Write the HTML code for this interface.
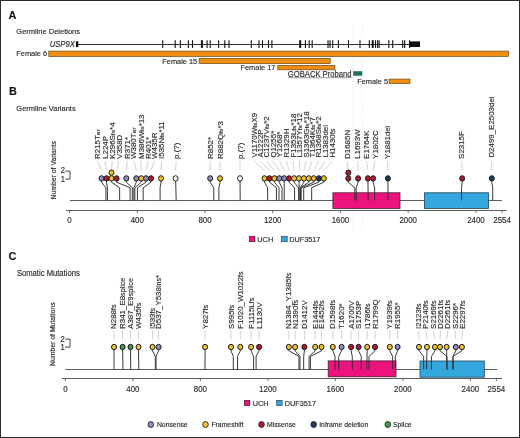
<!DOCTYPE html>
<html><head><meta charset="utf-8"><style>
html,body{margin:0;padding:0;background:#fff;}
body{width:520px;height:438px;overflow:hidden;}
svg{display:block;font-family:"Liberation Sans", sans-serif;will-change:transform;}
text{stroke:#333;stroke-width:0.15px;}
</style></head><body>
<svg width="520" height="438" viewBox="0 0 520 438">
<rect x="0" y="0" width="520" height="438" fill="#fff"/>
<line x1="353.2" y1="24.8" x2="353.2" y2="232" stroke="#c4c4c4" stroke-width="0.6" stroke-dasharray="0.9,2.4"/>
<line x1="362.1" y1="24.8" x2="362.1" y2="232" stroke="#c4c4c4" stroke-width="0.6" stroke-dasharray="0.9,2.4"/>
<text transform="translate(8.6,19.2) scale(1,1.0)" font-size="10.9" text-anchor="start" font-weight="bold" font-style="normal" fill="#111" >A</text>
<text transform="translate(16.3,34.4) scale(1,1.08)" font-size="7.5" text-anchor="start" font-weight="normal" font-style="normal" fill="#2b2b2b" >Germline Deletions</text>
<text transform="translate(74.8,46.7) scale(1,1.08)" font-size="7.65" text-anchor="end" font-weight="normal" font-style="italic" fill="#2b2b2b" >USP9X</text>
<line x1="78" y1="44.5" x2="412" y2="44.5" stroke="#1a1a1a" stroke-width="0.9"/>
<rect x="75.9" y="41.3" width="2.4" height="5.8" fill="#111"/>
<line x1="162.7" y1="40.2" x2="162.7" y2="47.9" stroke="#111" stroke-width="1.1"/>
<line x1="175.2" y1="40.2" x2="175.2" y2="47.9" stroke="#111" stroke-width="1.1"/>
<line x1="180.4" y1="40.2" x2="180.4" y2="47.9" stroke="#111" stroke-width="1.1"/>
<line x1="188.4" y1="40.2" x2="188.4" y2="47.9" stroke="#111" stroke-width="1.1"/>
<line x1="192.5" y1="40.2" x2="192.5" y2="47.9" stroke="#111" stroke-width="1.1"/>
<line x1="207.1" y1="40.2" x2="207.1" y2="47.9" stroke="#111" stroke-width="1.1"/>
<line x1="210.2" y1="40.2" x2="210.2" y2="47.9" stroke="#111" stroke-width="1.1"/>
<line x1="218.6" y1="40.2" x2="218.6" y2="47.9" stroke="#111" stroke-width="1.1"/>
<line x1="224.8" y1="40.2" x2="224.8" y2="47.9" stroke="#111" stroke-width="1.1"/>
<line x1="229" y1="40.2" x2="229" y2="47.9" stroke="#111" stroke-width="1.1"/>
<line x1="251.3" y1="40.2" x2="251.3" y2="47.9" stroke="#111" stroke-width="1.1"/>
<line x1="259" y1="40.2" x2="259" y2="47.9" stroke="#111" stroke-width="1.1"/>
<line x1="262.5" y1="40.2" x2="262.5" y2="47.9" stroke="#111" stroke-width="1.1"/>
<line x1="268.5" y1="40.2" x2="268.5" y2="47.9" stroke="#111" stroke-width="1.1"/>
<line x1="271.9" y1="40.2" x2="271.9" y2="47.9" stroke="#111" stroke-width="1.1"/>
<line x1="305.4" y1="40.2" x2="305.4" y2="47.9" stroke="#111" stroke-width="1.1"/>
<line x1="309.2" y1="40.2" x2="309.2" y2="47.9" stroke="#111" stroke-width="1.1"/>
<line x1="312.2" y1="40.2" x2="312.2" y2="47.9" stroke="#111" stroke-width="1.1"/>
<line x1="328" y1="40.2" x2="328" y2="47.9" stroke="#111" stroke-width="1.1"/>
<line x1="330" y1="40.2" x2="330" y2="47.9" stroke="#111" stroke-width="1.1"/>
<line x1="332.7" y1="40.2" x2="332.7" y2="47.9" stroke="#111" stroke-width="1.1"/>
<line x1="338.4" y1="40.2" x2="338.4" y2="47.9" stroke="#111" stroke-width="1.1"/>
<line x1="348.5" y1="40.2" x2="348.5" y2="47.9" stroke="#111" stroke-width="1.1"/>
<line x1="360" y1="40.2" x2="360" y2="47.9" stroke="#111" stroke-width="1.1"/>
<line x1="369.3" y1="40.2" x2="369.3" y2="47.9" stroke="#111" stroke-width="1.1"/>
<line x1="375.5" y1="40.2" x2="375.5" y2="47.9" stroke="#111" stroke-width="1.1"/>
<line x1="377.6" y1="40.2" x2="377.6" y2="47.9" stroke="#111" stroke-width="1.1"/>
<line x1="379.1" y1="40.2" x2="379.1" y2="47.9" stroke="#111" stroke-width="1.1"/>
<line x1="388.8" y1="40.2" x2="388.8" y2="47.9" stroke="#111" stroke-width="1.1"/>
<line x1="392.7" y1="40.2" x2="392.7" y2="47.9" stroke="#111" stroke-width="1.1"/>
<line x1="402.7" y1="40.2" x2="402.7" y2="47.9" stroke="#111" stroke-width="1.1"/>
<line x1="404.7" y1="40.2" x2="404.7" y2="47.9" stroke="#111" stroke-width="1.1"/>
<line x1="409.6" y1="40.2" x2="409.6" y2="47.9" stroke="#111" stroke-width="1.1"/>
<rect x="200.9" y="40.2" width="2" height="7.7" fill="#111"/>
<rect x="299.2" y="40.2" width="2" height="7.7" fill="#111"/>
<rect x="371.7" y="40.2" width="2" height="7.7" fill="#111"/>
<rect x="410" y="41.4" width="10" height="5.6" fill="#111"/>
<text transform="translate(16.3,56.3) scale(1,1.08)" font-size="7.4" text-anchor="start" font-weight="normal" font-style="normal" fill="#2b2b2b" >Female 6</text>
<rect x="48.8" y="51.1" width="459.70" height="5.30" fill="#ef8f12" stroke="#6e4512" stroke-width="0.7"/>
<text transform="translate(197.2,63.7) scale(1,1.08)" font-size="7.4" text-anchor="end" font-weight="normal" font-style="normal" fill="#2b2b2b" >Female 15</text>
<rect x="199.1" y="58.4" width="131.10" height="5.10" fill="#ef8f12" stroke="#6e4512" stroke-width="0.7"/>
<text transform="translate(275.4,70.0) scale(1,1.08)" font-size="7.4" text-anchor="end" font-weight="normal" font-style="normal" fill="#2b2b2b" >Female 17</text>
<rect x="277.8" y="65.4" width="57.00" height="4.40" fill="#ef8f12" stroke="#6e4512" stroke-width="0.7"/>
<text transform="translate(287.8,76.6) scale(1,1.08)" font-size="7.65" text-anchor="start" font-weight="normal" font-style="normal" fill="#2b2b2b" >GOBACK Proband</text>
<line x1="287.8" y1="77.7" x2="351.5" y2="77.7" stroke="#555" stroke-width="0.6"/>
<rect x="353.2" y="71.2" width="9.1" height="4.5" fill="#1b7350"/>
<text transform="translate(388,83.8) scale(1,1.08)" font-size="7.4" text-anchor="end" font-weight="normal" font-style="normal" fill="#2b2b2b" >Female 5</text>
<rect x="389.1" y="79.1" width="20.90" height="4.40" fill="#ef8f12" stroke="#6e4512" stroke-width="0.7"/>
<text transform="translate(9.0,94.8) scale(1,1.0)" font-size="10.9" text-anchor="start" font-weight="bold" font-style="normal" fill="#111" >B</text>
<text transform="translate(16.3,111.2) scale(1,1.08)" font-size="7.5" text-anchor="start" font-weight="normal" font-style="normal" fill="#2b2b2b" >Germline Variants</text>
<line x1="69.8" y1="200.5" x2="501.8" y2="200.5" stroke="#333" stroke-width="0.8"/>
<line x1="97.50" y1="161.0" x2="101.50" y2="170.5" stroke="#b4b4b4" stroke-width="0.6"/>
<text transform="translate(100.15,158.90) scale(1,1.08) rotate(-90)" font-size="7.35" fill="#2b2b2b">R215T<tspan font-size="6.25">er</tspan></text>
<line x1="105.00" y1="161.0" x2="106.50" y2="170.5" stroke="#b4b4b4" stroke-width="0.6"/>
<text transform="translate(107.65,158.90) scale(1,1.08) rotate(-90)" font-size="7.35" fill="#2b2b2b">L224P</text>
<line x1="112.20" y1="161.0" x2="111.50" y2="170.5" stroke="#b4b4b4" stroke-width="0.6"/>
<text transform="translate(114.85,158.90) scale(1,1.08) rotate(-90)" font-size="7.35" fill="#2b2b2b">K296S<tspan font-size="6.25">fs</tspan>*4</text>
<line x1="119.00" y1="161.0" x2="116.60" y2="170.5" stroke="#b4b4b4" stroke-width="0.6"/>
<text transform="translate(121.65,158.90) scale(1,1.08) rotate(-90)" font-size="7.35" fill="#2b2b2b">V358D</text>
<line x1="127.20" y1="161.0" x2="126.30" y2="170.5" stroke="#b4b4b4" stroke-width="0.6"/>
<text transform="translate(129.85,158.90) scale(1,1.08) rotate(-90)" font-size="7.35" fill="#2b2b2b">R371*</text>
<line x1="133.80" y1="161.0" x2="136.30" y2="170.5" stroke="#b4b4b4" stroke-width="0.6"/>
<text transform="translate(136.45,158.90) scale(1,1.08) rotate(-90)" font-size="7.35" fill="#2b2b2b">W380T<tspan font-size="6.25">er</tspan></text>
<line x1="141.00" y1="161.0" x2="141.20" y2="170.5" stroke="#b4b4b4" stroke-width="0.6"/>
<text transform="translate(143.65,158.90) scale(1,1.08) rotate(-90)" font-size="7.35" fill="#2b2b2b">M386W<tspan font-size="6.25">fs</tspan>*13</text>
<line x1="148.20" y1="161.0" x2="146.00" y2="170.5" stroke="#b4b4b4" stroke-width="0.6"/>
<text transform="translate(150.85,158.90) scale(1,1.08) rotate(-90)" font-size="7.35" fill="#2b2b2b">R401*</text>
<line x1="154.80" y1="161.0" x2="151.00" y2="170.5" stroke="#b4b4b4" stroke-width="0.6"/>
<text transform="translate(157.45,158.90) scale(1,1.08) rotate(-90)" font-size="7.35" fill="#2b2b2b">W435R</text>
<line x1="161.80" y1="161.0" x2="161.00" y2="170.5" stroke="#b4b4b4" stroke-width="0.6"/>
<text transform="translate(164.45,158.90) scale(1,1.08) rotate(-90)" font-size="7.35" fill="#2b2b2b">I535N<tspan font-size="6.25">fs</tspan>*11</text>
<line x1="176.20" y1="161.0" x2="175.60" y2="170.5" stroke="#b4b4b4" stroke-width="0.6"/>
<text transform="translate(178.85,158.90) scale(1,1.08) rotate(-90)" font-size="7.35" fill="#2b2b2b">p.(?)</text>
<line x1="210.20" y1="161.0" x2="210.20" y2="170.5" stroke="#b4b4b4" stroke-width="0.6"/>
<text transform="translate(212.85,158.90) scale(1,1.08) rotate(-90)" font-size="7.35" fill="#2b2b2b">R852*</text>
<line x1="220.00" y1="161.0" x2="220.00" y2="170.5" stroke="#b4b4b4" stroke-width="0.6"/>
<text transform="translate(222.65,158.90) scale(1,1.08) rotate(-90)" font-size="7.35" fill="#2b2b2b">R882Q<tspan font-size="6.25">fs</tspan>*3</text>
<line x1="240.00" y1="161.0" x2="240.00" y2="170.5" stroke="#b4b4b4" stroke-width="0.6"/>
<text transform="translate(242.65,158.90) scale(1,1.08) rotate(-90)" font-size="7.35" fill="#2b2b2b">p.(?)</text>
<line x1="254.10" y1="161.0" x2="264.50" y2="170.5" stroke="#b4b4b4" stroke-width="0.6"/>
<text transform="translate(256.75,157.60) scale(1,1.08) rotate(-90)" font-size="7.35" fill="#2b2b2b">V1170W<tspan font-size="6.25">fs</tspan>X9</text>
<line x1="260.40" y1="161.0" x2="269.50" y2="170.5" stroke="#b4b4b4" stroke-width="0.6"/>
<text transform="translate(263.05,157.60) scale(1,1.08) rotate(-90)" font-size="7.35" fill="#2b2b2b">A1222P</text>
<line x1="266.70" y1="161.0" x2="274.40" y2="170.5" stroke="#b4b4b4" stroke-width="0.6"/>
<text transform="translate(269.35,157.60) scale(1,1.08) rotate(-90)" font-size="7.35" fill="#2b2b2b">C1237V<tspan font-size="6.25">fs</tspan>*2</text>
<line x1="273.00" y1="161.0" x2="279.30" y2="170.5" stroke="#b4b4b4" stroke-width="0.6"/>
<text transform="translate(275.65,157.60) scale(1,1.08) rotate(-90)" font-size="7.35" fill="#2b2b2b">Q1255*</text>
<line x1="279.60" y1="161.0" x2="284.20" y2="170.5" stroke="#b4b4b4" stroke-width="0.6"/>
<text transform="translate(282.25,157.60) scale(1,1.08) rotate(-90)" font-size="7.35" fill="#2b2b2b">Y1268*</text>
<line x1="286.50" y1="161.0" x2="289.10" y2="170.5" stroke="#b4b4b4" stroke-width="0.6"/>
<text transform="translate(289.15,157.60) scale(1,1.08) rotate(-90)" font-size="7.35" fill="#2b2b2b">R1329H</text>
<line x1="293.20" y1="161.0" x2="294.10" y2="170.5" stroke="#b4b4b4" stroke-width="0.6"/>
<text transform="translate(295.85,157.60) scale(1,1.08) rotate(-90)" font-size="7.35" fill="#2b2b2b">F1353L<tspan font-size="6.25">fs</tspan>*18</text>
<line x1="299.50" y1="161.0" x2="299.00" y2="170.5" stroke="#b4b4b4" stroke-width="0.6"/>
<text transform="translate(302.15,157.60) scale(1,1.08) rotate(-90)" font-size="7.35" fill="#2b2b2b">L1357Y<tspan font-size="6.25">fs</tspan>*12</text>
<line x1="306.20" y1="161.0" x2="303.90" y2="170.5" stroke="#b4b4b4" stroke-width="0.6"/>
<text transform="translate(308.85,157.60) scale(1,1.08) rotate(-90)" font-size="7.35" fill="#2b2b2b">S1363G<tspan font-size="6.25">fs</tspan>*18</text>
<line x1="312.20" y1="161.0" x2="308.80" y2="170.5" stroke="#b4b4b4" stroke-width="0.6"/>
<text transform="translate(314.85,157.60) scale(1,1.08) rotate(-90)" font-size="7.35" fill="#2b2b2b">T1364K<tspan font-size="6.25">fs</tspan>*7</text>
<line x1="318.50" y1="161.0" x2="313.80" y2="170.5" stroke="#b4b4b4" stroke-width="0.6"/>
<text transform="translate(321.15,157.60) scale(1,1.08) rotate(-90)" font-size="7.35" fill="#2b2b2b">R1368S<tspan font-size="6.25">fs</tspan>*2</text>
<line x1="325.20" y1="161.0" x2="318.80" y2="170.5" stroke="#b4b4b4" stroke-width="0.6"/>
<text transform="translate(327.85,157.60) scale(1,1.08) rotate(-90)" font-size="7.35" fill="#2b2b2b">L1383<tspan font-size="7.35">del</tspan></text>
<line x1="332.60" y1="161.0" x2="323.80" y2="170.5" stroke="#b4b4b4" stroke-width="0.6"/>
<text transform="translate(335.25,157.60) scale(1,1.08) rotate(-90)" font-size="7.35" fill="#2b2b2b">H1430<tspan font-size="6.98">fs</tspan></text>
<line x1="347.40" y1="161.0" x2="348.30" y2="170.5" stroke="#b4b4b4" stroke-width="0.6"/>
<text transform="translate(350.05,158.90) scale(1,1.08) rotate(-90)" font-size="7.35" fill="#2b2b2b">D1685N</text>
<line x1="357.60" y1="161.0" x2="358.10" y2="170.5" stroke="#b4b4b4" stroke-width="0.6"/>
<text transform="translate(360.25,158.90) scale(1,1.08) rotate(-90)" font-size="7.35" fill="#2b2b2b">L1693W</text>
<line x1="366.60" y1="161.0" x2="367.90" y2="170.5" stroke="#b4b4b4" stroke-width="0.6"/>
<text transform="translate(369.25,158.90) scale(1,1.08) rotate(-90)" font-size="7.35" fill="#2b2b2b">E1764K</text>
<line x1="375.00" y1="161.0" x2="373.10" y2="170.5" stroke="#b4b4b4" stroke-width="0.6"/>
<text transform="translate(377.65,158.90) scale(1,1.08) rotate(-90)" font-size="7.35" fill="#2b2b2b">Y1802C</text>
<line x1="387.40" y1="161.0" x2="387.90" y2="170.5" stroke="#b4b4b4" stroke-width="0.6"/>
<text transform="translate(390.05,158.90) scale(1,1.08) rotate(-90)" font-size="7.35" fill="#2b2b2b">Y1881<tspan font-size="6.98">del</tspan></text>
<line x1="461.60" y1="161.0" x2="462.20" y2="170.5" stroke="#b4b4b4" stroke-width="0.6"/>
<text transform="translate(464.25,158.90) scale(1,1.08) rotate(-90)" font-size="7.35" fill="#2b2b2b">S2315F</text>
<line x1="491.60" y1="161.0" x2="491.80" y2="170.5" stroke="#b4b4b4" stroke-width="0.6"/>
<text transform="translate(494.25,157.60) scale(1,1.08) rotate(-90)" font-size="7.35" fill="#2b2b2b">D2499_E2503<tspan font-size="7.35">del</tspan></text>
<rect x="332.9" y="192.8" width="67.1" height="15.6" fill="#ec137f" stroke="#4f1832" stroke-width="0.8"/>
<rect x="424.4" y="192.8" width="64.1" height="15.6" fill="#35a7df" stroke="#1e4356" stroke-width="0.8"/>
<path d="M101.50,178.40 L101.50,182.20 L105.91,187.80 L105.91,200.5 M106.50,178.40 L106.50,182.20 L107.43,187.80 L107.43,200.5 M111.50,178.40 L111.50,182.20 L119.63,187.80 L119.63,200.5 M116.60,178.40 L116.60,182.20 L130.13,187.80 L130.13,200.5 M126.30,178.40 L126.30,182.20 L132.33,187.80 L132.33,200.5 M136.30,178.40 L136.30,182.20 L133.85,187.80 L133.85,200.5 M141.20,178.40 L141.20,182.20 L134.87,187.80 L134.87,200.5 M146.00,178.40 L146.00,182.20 L137.41,187.80 L137.41,200.5 M151.00,178.40 L151.00,182.20 L143.17,187.80 L143.17,200.5 M161.00,178.40 L161.00,182.20 L160.10,187.80 L160.10,200.5 M175.60,178.40 L176.19,200.5 M210.20,178.40 L210.20,182.20 L213.79,187.80 L213.79,200.5 M220.00,178.40 L220.00,182.20 L218.87,187.80 L218.87,200.5 M240.00,178.40 L240.20,200.5 M264.50,178.40 L264.50,182.20 L267.64,187.80 L267.64,200.5 M269.50,178.40 L269.50,182.20 L276.45,187.80 L276.45,200.5 M274.40,178.40 L274.40,182.20 L278.99,187.80 L278.99,200.5 M279.30,178.40 L279.30,182.20 L282.03,187.80 L282.03,200.5 M284.20,178.40 L284.24,200.5 M289.10,178.40 L289.10,182.20 L294.57,187.80 L294.57,200.5 M294.10,178.40 L294.10,182.20 L298.63,187.80 L298.63,200.5 M299.00,178.40 L299.31,200.5 M303.90,178.40 L303.90,182.20 L300.32,187.80 L300.32,200.5 M308.80,178.40 L308.80,182.20 L300.49,187.80 L300.49,200.5 M313.80,178.40 L313.80,182.20 L301.17,187.80 L301.17,200.5 M318.80,178.40 L318.80,182.20 L303.71,187.80 L303.71,200.5 M323.80,178.40 L323.80,182.20 L311.67,187.80 L311.67,200.5 M348.30,178.40 L348.30,182.20 L354.85,187.80 L354.85,200.5 M358.10,178.40 L358.10,182.20 L356.21,187.80 L356.21,200.5 M367.90,178.40 L368.23,200.5 M373.10,178.40 L373.10,182.20 L374.67,187.80 L374.67,200.5 M387.90,178.40 L388.05,200.5 M462.20,178.40 L462.20,182.20 L461.55,187.80 L461.55,200.5 M491.80,178.40 L491.80,182.20 L492.71,187.80 L492.71,200.5" fill="none" stroke="#2e2e2e" stroke-width="0.95"/>
<ellipse cx="101.50" cy="178.40" rx="2.5" ry="2.70" fill="#8f8ac2" stroke="#1c1c1c" stroke-width="1.0"/>
<ellipse cx="106.50" cy="178.40" rx="2.5" ry="2.70" fill="#b3162f" stroke="#1c1c1c" stroke-width="1.0"/>
<ellipse cx="111.50" cy="178.40" rx="2.5" ry="2.70" fill="#efc12a" stroke="#1c1c1c" stroke-width="1.0"/>
<ellipse cx="111.50" cy="172.75" rx="2.5" ry="2.70" fill="#efc12a" stroke="#1c1c1c" stroke-width="1.0"/>
<ellipse cx="116.60" cy="178.40" rx="2.5" ry="2.70" fill="#b3162f" stroke="#1c1c1c" stroke-width="1.0"/>
<ellipse cx="126.30" cy="178.40" rx="2.5" ry="2.70" fill="#8f8ac2" stroke="#1c1c1c" stroke-width="1.0"/>
<ellipse cx="136.30" cy="178.40" rx="2.5" ry="2.70" fill="#8f8ac2" stroke="#1c1c1c" stroke-width="1.0"/>
<ellipse cx="141.20" cy="178.40" rx="2.5" ry="2.70" fill="#efc12a" stroke="#1c1c1c" stroke-width="1.0"/>
<ellipse cx="146.00" cy="178.40" rx="2.5" ry="2.70" fill="#8f8ac2" stroke="#1c1c1c" stroke-width="1.0"/>
<ellipse cx="151.00" cy="178.40" rx="2.5" ry="2.70" fill="#b3162f" stroke="#1c1c1c" stroke-width="1.0"/>
<ellipse cx="161.00" cy="178.40" rx="2.5" ry="2.70" fill="#efc12a" stroke="#1c1c1c" stroke-width="1.0"/>
<ellipse cx="175.60" cy="178.40" rx="2.5" ry="2.70" fill="#ffffff" stroke="#1c1c1c" stroke-width="1.0"/>
<ellipse cx="210.20" cy="178.40" rx="2.5" ry="2.70" fill="#8f8ac2" stroke="#1c1c1c" stroke-width="1.0"/>
<ellipse cx="220.00" cy="178.40" rx="2.5" ry="2.70" fill="#efc12a" stroke="#1c1c1c" stroke-width="1.0"/>
<ellipse cx="240.00" cy="178.40" rx="2.5" ry="2.70" fill="#ffffff" stroke="#1c1c1c" stroke-width="1.0"/>
<ellipse cx="264.50" cy="178.40" rx="2.5" ry="2.70" fill="#efc12a" stroke="#1c1c1c" stroke-width="1.0"/>
<ellipse cx="269.50" cy="178.40" rx="2.5" ry="2.70" fill="#b3162f" stroke="#1c1c1c" stroke-width="1.0"/>
<ellipse cx="274.40" cy="178.40" rx="2.5" ry="2.70" fill="#efc12a" stroke="#1c1c1c" stroke-width="1.0"/>
<ellipse cx="279.30" cy="178.40" rx="2.5" ry="2.70" fill="#8f8ac2" stroke="#1c1c1c" stroke-width="1.0"/>
<ellipse cx="284.20" cy="178.40" rx="2.5" ry="2.70" fill="#8f8ac2" stroke="#1c1c1c" stroke-width="1.0"/>
<ellipse cx="289.10" cy="178.40" rx="2.5" ry="2.70" fill="#b3162f" stroke="#1c1c1c" stroke-width="1.0"/>
<ellipse cx="294.10" cy="178.40" rx="2.5" ry="2.70" fill="#efc12a" stroke="#1c1c1c" stroke-width="1.0"/>
<ellipse cx="299.00" cy="178.40" rx="2.5" ry="2.70" fill="#efc12a" stroke="#1c1c1c" stroke-width="1.0"/>
<ellipse cx="303.90" cy="178.40" rx="2.5" ry="2.70" fill="#efc12a" stroke="#1c1c1c" stroke-width="1.0"/>
<ellipse cx="308.80" cy="178.40" rx="2.5" ry="2.70" fill="#efc12a" stroke="#1c1c1c" stroke-width="1.0"/>
<ellipse cx="313.80" cy="178.40" rx="2.5" ry="2.70" fill="#efc12a" stroke="#1c1c1c" stroke-width="1.0"/>
<ellipse cx="318.80" cy="178.40" rx="2.5" ry="2.70" fill="#1f3a66" stroke="#1c1c1c" stroke-width="1.0"/>
<ellipse cx="323.80" cy="178.40" rx="2.5" ry="2.70" fill="#efc12a" stroke="#1c1c1c" stroke-width="1.0"/>
<ellipse cx="348.30" cy="178.40" rx="2.5" ry="2.70" fill="#b3162f" stroke="#1c1c1c" stroke-width="1.0"/>
<ellipse cx="348.30" cy="172.75" rx="2.5" ry="2.70" fill="#b3162f" stroke="#1c1c1c" stroke-width="1.0"/>
<ellipse cx="358.10" cy="178.40" rx="2.5" ry="2.70" fill="#b3162f" stroke="#1c1c1c" stroke-width="1.0"/>
<ellipse cx="367.90" cy="178.40" rx="2.5" ry="2.70" fill="#b3162f" stroke="#1c1c1c" stroke-width="1.0"/>
<ellipse cx="373.10" cy="178.40" rx="2.5" ry="2.70" fill="#b3162f" stroke="#1c1c1c" stroke-width="1.0"/>
<ellipse cx="387.90" cy="178.40" rx="2.5" ry="2.70" fill="#1f3a66" stroke="#1c1c1c" stroke-width="1.0"/>
<ellipse cx="462.20" cy="178.40" rx="2.5" ry="2.70" fill="#b3162f" stroke="#1c1c1c" stroke-width="1.0"/>
<ellipse cx="491.80" cy="178.40" rx="2.5" ry="2.70" fill="#1f3a66" stroke="#1c1c1c" stroke-width="1.0"/>
<line x1="66" y1="210.5" x2="506.6" y2="210.5" stroke="#333" stroke-width="0.8"/>
<line x1="69.50" y1="210.5" x2="69.50" y2="213" stroke="#333" stroke-width="0.7"/>
<text transform="translate(69.5,223.0) scale(1,1.08)" font-size="7.9" text-anchor="middle" font-weight="normal" font-style="normal" fill="#2b2b2b" >0</text>
<line x1="137.24" y1="210.5" x2="137.24" y2="213" stroke="#333" stroke-width="0.7"/>
<text transform="translate(137.24,223.0) scale(1,1.08)" font-size="7.9" text-anchor="middle" font-weight="normal" font-style="normal" fill="#2b2b2b" >400</text>
<line x1="204.98" y1="210.5" x2="204.98" y2="213" stroke="#333" stroke-width="0.7"/>
<text transform="translate(204.98,223.0) scale(1,1.08)" font-size="7.9" text-anchor="middle" font-weight="normal" font-style="normal" fill="#2b2b2b" >800</text>
<line x1="272.72" y1="210.5" x2="272.72" y2="213" stroke="#333" stroke-width="0.7"/>
<text transform="translate(272.72,223.0) scale(1,1.08)" font-size="7.9" text-anchor="middle" font-weight="normal" font-style="normal" fill="#2b2b2b" >1200</text>
<line x1="340.46" y1="210.5" x2="340.46" y2="213" stroke="#333" stroke-width="0.7"/>
<text transform="translate(340.46,223.0) scale(1,1.08)" font-size="7.9" text-anchor="middle" font-weight="normal" font-style="normal" fill="#2b2b2b" >1600</text>
<line x1="408.20" y1="210.5" x2="408.20" y2="213" stroke="#333" stroke-width="0.7"/>
<text transform="translate(408.2,223.0) scale(1,1.08)" font-size="7.9" text-anchor="middle" font-weight="normal" font-style="normal" fill="#2b2b2b" >2000</text>
<line x1="475.94" y1="210.5" x2="475.94" y2="213" stroke="#333" stroke-width="0.7"/>
<text transform="translate(475.94,223.0) scale(1,1.08)" font-size="7.9" text-anchor="middle" font-weight="normal" font-style="normal" fill="#2b2b2b" >2400</text>
<line x1="502.02" y1="210.5" x2="502.02" y2="213" stroke="#333" stroke-width="0.7"/>
<text transform="translate(502.02,223.0) scale(1,1.08)" font-size="7.9" text-anchor="middle" font-weight="normal" font-style="normal" fill="#2b2b2b" >2554</text>
<text transform="translate(55.6,170.2) scale(1,1.08) rotate(-90)" font-size="6.35" text-anchor="middle" fill="#2b2b2b">Number of Variants</text>
<text transform="translate(65.0,173.3) scale(1,1.08)" font-size="7.6" text-anchor="end" font-weight="normal" font-style="normal" fill="#2b2b2b" >2</text>
<text transform="translate(65.0,181.6) scale(1,1.08)" font-size="7.6" text-anchor="end" font-weight="normal" font-style="normal" fill="#2b2b2b" >1</text>
<path d="M65.3,171.1 H70 V179.1 H65.3" fill="none" stroke="#333" stroke-width="0.9"/>
<rect x="249.3" y="236.3" width="5.6" height="5.4" fill="#ec137f" stroke="#4f1832" stroke-width="0.7"/>
<text transform="translate(257.3,241.6) scale(1,1.08)" font-size="7.35" text-anchor="start" font-weight="normal" font-style="normal" fill="#2b2b2b" >UCH</text>
<rect x="281.6" y="236.3" width="5.6" height="5.4" fill="#35a7df" stroke="#1e4356" stroke-width="0.7"/>
<text transform="translate(289.2,241.6) scale(1,1.08)" font-size="7.3" text-anchor="start" font-weight="normal" font-style="normal" fill="#2b2b2b" >DUF3517</text>
<text transform="translate(8.6,260.3) scale(1,1.0)" font-size="10.9" text-anchor="start" font-weight="bold" font-style="normal" fill="#111" >C</text>
<text transform="translate(16.9,276.0) scale(1,1.08)" font-size="7.65" text-anchor="start" font-weight="normal" font-style="normal" fill="#2b2b2b" >Somatic Mutations</text>
<line x1="65.4" y1="369.5" x2="497.4" y2="369.5" stroke="#333" stroke-width="0.8"/>
<line x1="113.80" y1="330.4" x2="114.00" y2="339.4" stroke="#b4b4b4" stroke-width="0.6"/>
<text transform="translate(116.45,328.90) scale(1,1.08) rotate(-90)" font-size="7.35" fill="#2b2b2b">N288<tspan font-size="6.62">fs</tspan></text>
<line x1="122.60" y1="330.4" x2="122.60" y2="339.4" stroke="#b4b4b4" stroke-width="0.6"/>
<text transform="translate(125.25,328.90) scale(1,1.08) rotate(-90)" font-size="7.35" fill="#2b2b2b">R341_E8<tspan font-size="6.62">splice</tspan></text>
<line x1="130.30" y1="330.4" x2="130.50" y2="339.4" stroke="#b4b4b4" stroke-width="0.6"/>
<text transform="translate(132.95,328.90) scale(1,1.08) rotate(-90)" font-size="7.35" fill="#2b2b2b">A387_E9<tspan font-size="6.62">splice</tspan></text>
<line x1="138.40" y1="330.4" x2="138.50" y2="339.4" stroke="#b4b4b4" stroke-width="0.6"/>
<text transform="translate(141.05,328.90) scale(1,1.08) rotate(-90)" font-size="7.35" fill="#2b2b2b">W435<tspan font-size="6.62">fs</tspan></text>
<line x1="152.50" y1="330.4" x2="152.50" y2="339.4" stroke="#b4b4b4" stroke-width="0.6"/>
<text transform="translate(155.15,328.90) scale(1,1.08) rotate(-90)" font-size="7.35" fill="#2b2b2b">I533<tspan font-size="6.62">fs</tspan></text>
<line x1="158.60" y1="330.4" x2="158.60" y2="339.4" stroke="#b4b4b4" stroke-width="0.6"/>
<text transform="translate(161.25,328.90) scale(1,1.08) rotate(-90)" font-size="7.35" fill="#2b2b2b">D537_Y538<tspan font-size="6.62">ins</tspan>*</text>
<line x1="205.10" y1="330.4" x2="205.10" y2="339.4" stroke="#b4b4b4" stroke-width="0.6"/>
<text transform="translate(207.75,328.90) scale(1,1.08) rotate(-90)" font-size="7.35" fill="#2b2b2b">Y827<tspan font-size="6.62">fs</tspan></text>
<line x1="231.00" y1="330.4" x2="231.00" y2="339.4" stroke="#b4b4b4" stroke-width="0.6"/>
<text transform="translate(233.65,328.90) scale(1,1.08) rotate(-90)" font-size="7.35" fill="#2b2b2b">S995<tspan font-size="6.62">fs</tspan></text>
<line x1="240.30" y1="330.4" x2="240.30" y2="339.4" stroke="#b4b4b4" stroke-width="0.6"/>
<text transform="translate(242.95,328.90) scale(1,1.08) rotate(-90)" font-size="7.35" fill="#2b2b2b">F1020_W1022<tspan font-size="6.62">fs</tspan></text>
<line x1="251.10" y1="330.4" x2="251.10" y2="339.4" stroke="#b4b4b4" stroke-width="0.6"/>
<text transform="translate(253.75,328.90) scale(1,1.08) rotate(-90)" font-size="7.35" fill="#2b2b2b">F1115L<tspan font-size="6.62">fs</tspan></text>
<line x1="259.10" y1="330.4" x2="259.10" y2="339.4" stroke="#b4b4b4" stroke-width="0.6"/>
<text transform="translate(261.75,328.90) scale(1,1.08) rotate(-90)" font-size="7.35" fill="#2b2b2b">L1130V</text>
<line x1="288.80" y1="330.4" x2="288.80" y2="339.4" stroke="#b4b4b4" stroke-width="0.6"/>
<text transform="translate(291.45,328.90) scale(1,1.08) rotate(-90)" font-size="7.35" fill="#2b2b2b">N1384_Y1385<tspan font-size="6.62">fs</tspan></text>
<line x1="295.10" y1="330.4" x2="295.10" y2="339.4" stroke="#b4b4b4" stroke-width="0.6"/>
<text transform="translate(297.75,328.90) scale(1,1.08) rotate(-90)" font-size="7.35" fill="#2b2b2b">N1390<tspan font-size="6.62">fs</tspan></text>
<line x1="304.40" y1="330.4" x2="304.40" y2="339.4" stroke="#b4b4b4" stroke-width="0.6"/>
<text transform="translate(307.05,328.90) scale(1,1.08) rotate(-90)" font-size="7.35" fill="#2b2b2b">D1412V</text>
<line x1="315.20" y1="330.4" x2="315.20" y2="339.4" stroke="#b4b4b4" stroke-width="0.6"/>
<text transform="translate(317.85,328.90) scale(1,1.08) rotate(-90)" font-size="7.35" fill="#2b2b2b">E1444<tspan font-size="6.62">fs</tspan></text>
<line x1="321.50" y1="330.4" x2="321.50" y2="339.4" stroke="#b4b4b4" stroke-width="0.6"/>
<text transform="translate(324.15,328.90) scale(1,1.08) rotate(-90)" font-size="7.35" fill="#2b2b2b">E1452<tspan font-size="6.62">fs</tspan></text>
<line x1="332.80" y1="330.4" x2="332.80" y2="339.4" stroke="#b4b4b4" stroke-width="0.6"/>
<text transform="translate(335.45,328.90) scale(1,1.08) rotate(-90)" font-size="7.35" fill="#2b2b2b">D1598<tspan font-size="6.62">fs</tspan></text>
<line x1="341.60" y1="330.4" x2="341.60" y2="339.4" stroke="#b4b4b4" stroke-width="0.6"/>
<text transform="translate(344.25,328.90) scale(1,1.08) rotate(-90)" font-size="7.35" fill="#2b2b2b">T1620*</text>
<line x1="351.10" y1="330.4" x2="351.10" y2="339.4" stroke="#b4b4b4" stroke-width="0.6"/>
<text transform="translate(353.75,328.90) scale(1,1.08) rotate(-90)" font-size="7.35" fill="#2b2b2b">A1700V</text>
<line x1="358.60" y1="330.4" x2="358.60" y2="339.4" stroke="#b4b4b4" stroke-width="0.6"/>
<text transform="translate(361.25,328.90) scale(1,1.08) rotate(-90)" font-size="7.35" fill="#2b2b2b">S1753P</text>
<line x1="367.20" y1="330.4" x2="367.20" y2="339.4" stroke="#b4b4b4" stroke-width="0.6"/>
<text transform="translate(369.85,328.90) scale(1,1.08) rotate(-90)" font-size="7.35" fill="#2b2b2b">I1786<tspan font-size="6.62">fs</tspan></text>
<line x1="375.00" y1="330.4" x2="375.00" y2="339.4" stroke="#b4b4b4" stroke-width="0.6"/>
<text transform="translate(377.65,328.90) scale(1,1.08) rotate(-90)" font-size="7.35" fill="#2b2b2b">R1799Q</text>
<line x1="389.80" y1="330.4" x2="389.80" y2="339.4" stroke="#b4b4b4" stroke-width="0.6"/>
<text transform="translate(392.45,328.90) scale(1,1.08) rotate(-90)" font-size="7.35" fill="#2b2b2b">Y1939<tspan font-size="6.62">fs</tspan></text>
<line x1="397.60" y1="330.4" x2="397.60" y2="339.4" stroke="#b4b4b4" stroke-width="0.6"/>
<text transform="translate(400.25,328.90) scale(1,1.08) rotate(-90)" font-size="7.35" fill="#2b2b2b">R1955*</text>
<line x1="418.80" y1="330.4" x2="419.00" y2="339.4" stroke="#b4b4b4" stroke-width="0.6"/>
<text transform="translate(421.45,328.90) scale(1,1.08) rotate(-90)" font-size="7.35" fill="#2b2b2b">I2123<tspan font-size="6.62">fs</tspan></text>
<line x1="425.80" y1="330.4" x2="427.00" y2="339.4" stroke="#b4b4b4" stroke-width="0.6"/>
<text transform="translate(428.45,328.90) scale(1,1.08) rotate(-90)" font-size="7.35" fill="#2b2b2b">P2140<tspan font-size="6.62">fs</tspan></text>
<line x1="433.20" y1="330.4" x2="435.00" y2="339.4" stroke="#b4b4b4" stroke-width="0.6"/>
<text transform="translate(435.85,328.90) scale(1,1.08) rotate(-90)" font-size="7.35" fill="#2b2b2b">S2169<tspan font-size="6.62">fs</tspan></text>
<line x1="440.50" y1="330.4" x2="440.00" y2="339.4" stroke="#b4b4b4" stroke-width="0.6"/>
<text transform="translate(443.15,328.90) scale(1,1.08) rotate(-90)" font-size="7.35" fill="#2b2b2b">D2261<tspan font-size="6.62">fs</tspan></text>
<line x1="447.80" y1="330.4" x2="446.60" y2="339.4" stroke="#b4b4b4" stroke-width="0.6"/>
<text transform="translate(450.45,328.90) scale(1,1.08) rotate(-90)" font-size="7.35" fill="#2b2b2b">D2261<tspan font-size="6.62">fs</tspan></text>
<line x1="455.20" y1="330.4" x2="455.80" y2="339.4" stroke="#b4b4b4" stroke-width="0.6"/>
<text transform="translate(457.85,328.90) scale(1,1.08) rotate(-90)" font-size="7.35" fill="#2b2b2b">S2296*</text>
<line x1="462.50" y1="330.4" x2="461.90" y2="339.4" stroke="#b4b4b4" stroke-width="0.6"/>
<text transform="translate(465.15,328.90) scale(1,1.08) rotate(-90)" font-size="7.35" fill="#2b2b2b">E2297<tspan font-size="6.62">fs</tspan></text>
<rect x="328.2" y="360.9" width="67.8" height="15.9" fill="#ec137f" stroke="#4f1832" stroke-width="0.8"/>
<rect x="420.0" y="361.0" width="64.3" height="16.2" fill="#35a7df" stroke="#1e4356" stroke-width="0.8"/>
<path d="M114.00,347.00 L114.00,369.5 M122.60,347.00 L122.94,369.5 M130.50,347.00 L130.71,369.5 M138.50,347.00 L138.81,369.5 M152.50,347.00 L152.50,350.80 L155.34,356.40 L155.34,369.5 M158.60,347.00 L158.60,350.80 L156.02,356.40 L156.02,369.5 M205.10,347.00 L204.96,369.5 M231.00,347.00 L231.00,350.80 L233.31,356.40 L233.31,369.5 M240.30,347.00 L240.30,350.80 L237.53,356.40 L237.53,369.5 M251.10,347.00 L251.10,350.80 L253.56,356.40 L253.56,369.5 M259.10,347.00 L259.10,350.80 L256.09,356.40 L256.09,369.5 M288.80,347.00 L288.80,350.80 L298.95,356.40 L298.95,369.5 M295.10,347.00 L295.10,350.80 L299.96,356.40 L299.96,369.5 M304.40,347.00 L304.40,350.80 L303.68,356.40 L303.68,369.5 M315.20,347.00 L315.20,350.80 L309.08,356.40 L309.08,369.5 M321.50,347.00 L321.50,350.80 L310.43,356.40 L310.43,369.5 M332.80,347.00 L332.80,350.80 L335.06,356.40 L335.06,369.5 M341.60,347.00 L341.60,350.80 L338.77,356.40 L338.77,369.5 M351.10,347.00 L351.10,350.80 L352.27,356.40 L352.27,369.5 M358.60,347.00 L358.60,350.80 L361.22,356.40 L361.22,369.5 M367.20,347.00 L366.79,369.5 M375.00,347.00 L375.00,350.80 L368.98,356.40 L368.98,369.5 M389.80,347.00 L389.80,350.80 L392.61,356.40 L392.61,369.5 M397.60,347.00 L397.60,350.80 L395.31,356.40 L395.31,369.5 M419.00,347.00 L419.00,350.80 L423.66,356.40 L423.66,369.5 M427.00,347.00 L426.52,369.5 M435.00,347.00 L435.00,350.80 L431.42,356.40 L431.42,369.5 M440.00,347.00 L440.00,350.80 L446.94,356.40 L446.94,369.5 M446.60,347.00 L446.94,369.5 M455.80,347.00 L455.80,350.80 L452.85,356.40 L452.85,369.5 M461.90,347.00 L461.90,350.80 L453.02,356.40 L453.02,369.5" fill="none" stroke="#2e2e2e" stroke-width="0.95"/>
<ellipse cx="114.00" cy="347.00" rx="2.5" ry="2.70" fill="#efc12a" stroke="#1c1c1c" stroke-width="1.0"/>
<ellipse cx="122.60" cy="347.00" rx="2.5" ry="2.70" fill="#3f9a45" stroke="#1c1c1c" stroke-width="1.0"/>
<ellipse cx="130.50" cy="347.00" rx="2.5" ry="2.70" fill="#3f9a45" stroke="#1c1c1c" stroke-width="1.0"/>
<ellipse cx="138.50" cy="347.00" rx="2.5" ry="2.70" fill="#efc12a" stroke="#1c1c1c" stroke-width="1.0"/>
<ellipse cx="152.50" cy="347.00" rx="2.5" ry="2.70" fill="#efc12a" stroke="#1c1c1c" stroke-width="1.0"/>
<ellipse cx="158.60" cy="347.00" rx="2.5" ry="2.70" fill="#8f8ac2" stroke="#1c1c1c" stroke-width="1.0"/>
<ellipse cx="205.10" cy="347.00" rx="2.5" ry="2.70" fill="#efc12a" stroke="#1c1c1c" stroke-width="1.0"/>
<ellipse cx="231.00" cy="347.00" rx="2.5" ry="2.70" fill="#efc12a" stroke="#1c1c1c" stroke-width="1.0"/>
<ellipse cx="240.30" cy="347.00" rx="2.5" ry="2.70" fill="#efc12a" stroke="#1c1c1c" stroke-width="1.0"/>
<ellipse cx="251.10" cy="347.00" rx="2.5" ry="2.70" fill="#efc12a" stroke="#1c1c1c" stroke-width="1.0"/>
<ellipse cx="259.10" cy="347.00" rx="2.5" ry="2.70" fill="#b3162f" stroke="#1c1c1c" stroke-width="1.0"/>
<ellipse cx="288.80" cy="347.00" rx="2.5" ry="2.70" fill="#efc12a" stroke="#1c1c1c" stroke-width="1.0"/>
<ellipse cx="295.10" cy="347.00" rx="2.5" ry="2.70" fill="#efc12a" stroke="#1c1c1c" stroke-width="1.0"/>
<ellipse cx="304.40" cy="347.00" rx="2.5" ry="2.70" fill="#b3162f" stroke="#1c1c1c" stroke-width="1.0"/>
<ellipse cx="315.20" cy="347.00" rx="2.5" ry="2.70" fill="#efc12a" stroke="#1c1c1c" stroke-width="1.0"/>
<ellipse cx="321.50" cy="347.00" rx="2.5" ry="2.70" fill="#efc12a" stroke="#1c1c1c" stroke-width="1.0"/>
<ellipse cx="332.80" cy="347.00" rx="2.5" ry="2.70" fill="#efc12a" stroke="#1c1c1c" stroke-width="1.0"/>
<ellipse cx="341.60" cy="347.00" rx="2.5" ry="2.70" fill="#8f8ac2" stroke="#1c1c1c" stroke-width="1.0"/>
<ellipse cx="351.10" cy="347.00" rx="2.5" ry="2.70" fill="#b3162f" stroke="#1c1c1c" stroke-width="1.0"/>
<ellipse cx="358.60" cy="347.00" rx="2.5" ry="2.70" fill="#b3162f" stroke="#1c1c1c" stroke-width="1.0"/>
<ellipse cx="367.20" cy="347.00" rx="2.5" ry="2.70" fill="#efc12a" stroke="#1c1c1c" stroke-width="1.0"/>
<ellipse cx="375.00" cy="347.00" rx="2.5" ry="2.70" fill="#b3162f" stroke="#1c1c1c" stroke-width="1.0"/>
<ellipse cx="389.80" cy="347.00" rx="2.5" ry="2.70" fill="#efc12a" stroke="#1c1c1c" stroke-width="1.0"/>
<ellipse cx="397.60" cy="347.00" rx="2.5" ry="2.70" fill="#8f8ac2" stroke="#1c1c1c" stroke-width="1.0"/>
<ellipse cx="419.00" cy="347.00" rx="2.5" ry="2.70" fill="#efc12a" stroke="#1c1c1c" stroke-width="1.0"/>
<ellipse cx="427.00" cy="347.00" rx="2.5" ry="2.70" fill="#efc12a" stroke="#1c1c1c" stroke-width="1.0"/>
<ellipse cx="435.00" cy="347.00" rx="2.5" ry="2.70" fill="#efc12a" stroke="#1c1c1c" stroke-width="1.0"/>
<ellipse cx="440.00" cy="347.00" rx="2.5" ry="2.70" fill="#efc12a" stroke="#1c1c1c" stroke-width="1.0"/>
<ellipse cx="446.60" cy="347.00" rx="2.5" ry="2.70" fill="#efc12a" stroke="#1c1c1c" stroke-width="1.0"/>
<ellipse cx="455.80" cy="347.00" rx="2.5" ry="2.70" fill="#8f8ac2" stroke="#1c1c1c" stroke-width="1.0"/>
<ellipse cx="461.90" cy="347.00" rx="2.5" ry="2.70" fill="#efc12a" stroke="#1c1c1c" stroke-width="1.0"/>
<line x1="62" y1="378.5" x2="502" y2="378.5" stroke="#333" stroke-width="0.8"/>
<line x1="65.40" y1="378.5" x2="65.40" y2="381" stroke="#333" stroke-width="0.7"/>
<text transform="translate(65.4,391.5) scale(1,1.08)" font-size="7.9" text-anchor="middle" font-weight="normal" font-style="normal" fill="#2b2b2b" >0</text>
<line x1="132.90" y1="378.5" x2="132.90" y2="381" stroke="#333" stroke-width="0.7"/>
<text transform="translate(132.9,391.5) scale(1,1.08)" font-size="7.9" text-anchor="middle" font-weight="normal" font-style="normal" fill="#2b2b2b" >400</text>
<line x1="200.40" y1="378.5" x2="200.40" y2="381" stroke="#333" stroke-width="0.7"/>
<text transform="translate(200.4,391.5) scale(1,1.08)" font-size="7.9" text-anchor="middle" font-weight="normal" font-style="normal" fill="#2b2b2b" >800</text>
<line x1="267.90" y1="378.5" x2="267.90" y2="381" stroke="#333" stroke-width="0.7"/>
<text transform="translate(267.9,391.5) scale(1,1.08)" font-size="7.9" text-anchor="middle" font-weight="normal" font-style="normal" fill="#2b2b2b" >1200</text>
<line x1="335.40" y1="378.5" x2="335.40" y2="381" stroke="#333" stroke-width="0.7"/>
<text transform="translate(335.4,391.5) scale(1,1.08)" font-size="7.9" text-anchor="middle" font-weight="normal" font-style="normal" fill="#2b2b2b" >1600</text>
<line x1="402.90" y1="378.5" x2="402.90" y2="381" stroke="#333" stroke-width="0.7"/>
<text transform="translate(402.9,391.5) scale(1,1.08)" font-size="7.9" text-anchor="middle" font-weight="normal" font-style="normal" fill="#2b2b2b" >2000</text>
<line x1="470.40" y1="378.5" x2="470.40" y2="381" stroke="#333" stroke-width="0.7"/>
<text transform="translate(470.4,391.5) scale(1,1.08)" font-size="7.9" text-anchor="middle" font-weight="normal" font-style="normal" fill="#2b2b2b" >2400</text>
<line x1="496.39" y1="378.5" x2="496.39" y2="381" stroke="#333" stroke-width="0.7"/>
<text transform="translate(496.39,391.5) scale(1,1.08)" font-size="7.9" text-anchor="middle" font-weight="normal" font-style="normal" fill="#2b2b2b" >2554</text>
<text transform="translate(55.3,334.2) scale(1,1.08) rotate(-90)" font-size="6.35" text-anchor="middle" fill="#2b2b2b">Number of Mutations</text>
<text transform="translate(64.6,341.8) scale(1,1.08)" font-size="7.6" text-anchor="end" font-weight="normal" font-style="normal" fill="#2b2b2b" >2</text>
<text transform="translate(64.6,349.6) scale(1,1.08)" font-size="7.6" text-anchor="end" font-weight="normal" font-style="normal" fill="#2b2b2b" >1</text>
<path d="M65,339.1 H70 V347.1 H65" fill="none" stroke="#333" stroke-width="0.9"/>
<rect x="244.4" y="400.4" width="5.4" height="5.2" fill="#ec137f" stroke="#4f1832" stroke-width="0.7"/>
<text transform="translate(252.7,405.8) scale(1,1.08)" font-size="7.35" text-anchor="start" font-weight="normal" font-style="normal" fill="#2b2b2b" >UCH</text>
<rect x="276.7" y="400.4" width="5.4" height="5.2" fill="#35a7df" stroke="#1e4356" stroke-width="0.7"/>
<text transform="translate(284.8,405.8) scale(1,1.08)" font-size="7.3" text-anchor="start" font-weight="normal" font-style="normal" fill="#2b2b2b" >DUF3517</text>
<ellipse cx="150.8" cy="424.5" rx="2.8" ry="3.0" fill="#8f8ac2" stroke="#262626" stroke-width="0.9"/>
<text transform="translate(156.9,427.0) scale(1,1.08)" font-size="6.85" text-anchor="start" font-weight="normal" font-style="normal" fill="#2b2b2b" >Nonsense</text>
<ellipse cx="205.5" cy="424.5" rx="2.8" ry="3.0" fill="#efc12a" stroke="#262626" stroke-width="0.9"/>
<text transform="translate(211.4,427.0) scale(1,1.08)" font-size="6.85" text-anchor="start" font-weight="normal" font-style="normal" fill="#2b2b2b" >Frameshift</text>
<ellipse cx="261.5" cy="424.5" rx="2.8" ry="3.0" fill="#b3162f" stroke="#262626" stroke-width="0.9"/>
<text transform="translate(267.0,427.0) scale(1,1.08)" font-size="6.85" text-anchor="start" font-weight="normal" font-style="normal" fill="#2b2b2b" >Missense</text>
<ellipse cx="313.7" cy="424.5" rx="2.8" ry="3.0" fill="#1f3a66" stroke="#262626" stroke-width="0.9"/>
<text transform="translate(319.2,427.0) scale(1,1.08)" font-size="6.85" text-anchor="start" font-weight="normal" font-style="normal" fill="#2b2b2b" >Inframe deletion</text>
<ellipse cx="387.8" cy="424.5" rx="2.8" ry="3.0" fill="#3f9a45" stroke="#262626" stroke-width="0.9"/>
<text transform="translate(393.0,427.0) scale(1,1.08)" font-size="6.85" text-anchor="start" font-weight="normal" font-style="normal" fill="#2b2b2b" >Splice</text>
<rect x="0.5" y="0.5" width="519" height="437" fill="none" stroke="#2c2c2c" stroke-width="1"/>
</svg>
</body></html>
